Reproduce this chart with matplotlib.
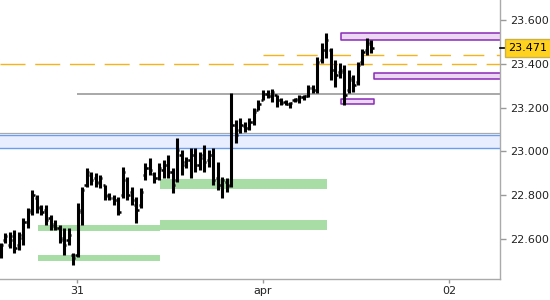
import pandas as pd
import matplotlib
matplotlib.use("Agg")
import matplotlib.pyplot as plt
import matplotlib.transforms as mtransforms

# hourly-ish OHLC bars
times = pd.date_range("2024-03-30 14:10", periods=83, freq="35min")

highs = [22.582, 22.627, 22.632, 22.641, 22.632, 22.696, 22.742, 22.824, 22.801, 22.755,
         22.755, 22.710, 22.687, 22.664, 22.650, 22.650, 22.536, 22.764, 22.837, 22.924,
         22.906, 22.901, 22.892, 22.847, 22.810, 22.801, 22.792, 22.929, 22.883, 22.837,
         22.792, 22.833, 22.947, 22.970, 22.906, 22.947, 22.961, 22.984, 22.924, 23.061,
         23.006, 22.974, 23.016, 23.016, 22.997, 23.029, 23.006, 23.016, 22.952, 22.883,
         22.879, 23.267, 23.143, 23.153, 23.134, 23.153, 23.198, 23.235, 23.280, 23.280,
         23.285, 23.258, 23.244, 23.235, 23.226, 23.244, 23.258, 23.258, 23.303, 23.303,
         23.431, 23.495, 23.541, 23.472, 23.417, 23.404, 23.395, 23.372, 23.349, 23.408,
         23.468, 23.518, 23.509]
lows = [22.513, 22.582, 22.559, 22.536, 22.550, 22.573, 22.650, 22.710, 22.719, 22.710,
        22.664, 22.641, 22.641, 22.582, 22.527, 22.573, 22.481, 22.518, 22.664, 22.837,
        22.847, 22.837, 22.833, 22.778, 22.778, 22.755, 22.710, 22.787, 22.778, 22.755,
        22.673, 22.742, 22.869, 22.892, 22.856, 22.869, 22.879, 22.879, 22.810, 22.860,
        22.892, 22.924, 22.879, 22.906, 22.915, 22.906, 22.929, 22.847, 22.824, 22.787,
        22.815, 22.837, 23.038, 23.084, 23.089, 23.098, 23.121, 23.189, 23.235, 23.244,
        23.226, 23.203, 23.212, 23.212, 23.198, 23.226, 23.221, 23.235, 23.248, 23.267,
        23.267, 23.404, 23.427, 23.326, 23.294, 23.335, 23.212, 23.267, 23.271, 23.303,
        23.395, 23.440, 23.449]
opens = [22.550, 22.596, 22.573, 22.596, 22.573, 22.605, 22.678, 22.732, 22.787, 22.746,
         22.732, 22.696, 22.669, 22.650, 22.605, 22.596, 22.527, 22.527, 22.723, 22.847,
         22.892, 22.879, 22.860, 22.847, 22.801, 22.787, 22.778, 22.801, 22.869, 22.815,
         22.755, 22.755, 22.892, 22.924, 22.897, 22.879, 22.915, 22.938, 22.906, 22.869,
         22.984, 22.952, 22.961, 22.984, 22.938, 22.970, 22.961, 22.984, 22.879, 22.847,
         22.860, 22.847, 23.121, 23.098, 23.116, 23.107, 23.134, 23.189, 23.235, 23.262,
         23.253, 23.258, 23.235, 23.226, 23.216, 23.235, 23.235, 23.248, 23.253, 23.290,
         23.280, 23.417, 23.463, 23.463, 23.372, 23.363, 23.363, 23.280, 23.326, 23.317,
         23.408, 23.463, 23.490]
closes = [22.573, 22.614, 22.614, 22.559, 22.618, 22.678, 22.723, 22.801, 22.742, 22.723,
          22.687, 22.659, 22.650, 22.596, 22.573, 22.618, 22.513, 22.732, 22.824, 22.906,
          22.869, 22.856, 22.879, 22.796, 22.787, 22.778, 22.723, 22.906, 22.801, 22.778,
          22.732, 22.815, 22.924, 22.915, 22.879, 22.924, 22.938, 22.906, 22.847, 23.006,
          22.938, 22.961, 22.984, 22.938, 22.984, 22.952, 22.984, 22.869, 22.847, 22.869,
          22.842, 23.121, 23.075, 23.121, 23.107, 23.134, 23.180, 23.216, 23.262, 23.253,
          23.271, 23.235, 23.221, 23.216, 23.221, 23.239, 23.248, 23.253, 23.290, 23.280,
          23.408, 23.463, 23.509, 23.372, 23.349, 23.372, 23.258, 23.335, 23.303, 23.395,
          23.454, 23.500, 23.471]

last_price = 23.471

# support / resistance zones
green_zones = [  # (start, end, low, high)
    ("2024-03-30 19:00", "2024-03-31 10:40", 22.500, 22.527),
    ("2024-03-30 19:00", "2024-03-31 10:40", 22.637, 22.664),
    ("2024-03-31 10:40", "2024-04-01 08:15", 22.641, 22.687),
    ("2024-03-31 10:40", "2024-04-01 08:15", 22.828, 22.874),
]
purple_zones = [
    ("2024-04-01 10:05", "2024-04-02 12:00", 23.509, 23.541),
    ("2024-04-01 14:20", "2024-04-02 12:00", 23.329, 23.359),
    ("2024-04-01 10:05", "2024-04-01 14:20", 23.215, 23.239),
]
blue_zone = (23.015, 23.075)
grey_full = 23.084
grey_level = ("2024-03-31 00:00", 23.261)
orange_full = 23.399
orange_level = ("2024-04-01 00:00", 23.440)

tick_dates = ["2024-03-31", "2024-04-01", "2024-04-02"]
tick_labels = ["31", "apr", "02"]
y_ticks = [22.6, 22.8, 23.0, 23.2, 23.4, 23.6]

fig = plt.figure(figsize=(5.5, 3), dpi=100)
ax = fig.add_axes([0, 21 / 300, 500 / 550, 279 / 300])

x_start = pd.Timestamp("2024-03-30 14:04")
x_end = pd.Timestamp("2024-04-02 06:35")
ax.set_xlim(x_start, x_end)
ax.set_ylim(22.417, 23.691)

# zones
ax.axhspan(*blue_zone, facecolor="#e8eeff", edgecolor="none", zorder=1)
ax.axhline(blue_zone[0], color="#6a9cf0", lw=1.0, zorder=2)
ax.axhline(blue_zone[1], color="#6a9cf0", lw=1.0, zorder=2)
ax.axhline(grey_full, color="#aaaaaa", lw=0.9, zorder=2)

for s, e, lo, hi in green_zones:
    ax.fill_between([pd.Timestamp(s), pd.Timestamp(e)], lo, hi,
                    color="#a8dea6", lw=0, zorder=2)

for s, e, lo, hi in purple_zones:
    ax.fill_between([pd.Timestamp(s), pd.Timestamp(e)], lo, hi,
                    facecolor="#ecd8f2", edgecolor="#8a2ab8", lw=1.1, zorder=2)

ax.hlines(grey_level[1], pd.Timestamp(grey_level[0]), x_end,
          color="#a8a8a8", lw=1.4, zorder=2)
ax.axhline(orange_full, color="#f5b51a", lw=1.0, ls=(0, (18, 7)), zorder=3)
ax.hlines(orange_level[1], pd.Timestamp(orange_level[0]), x_end,
          color="#f5b51a", lw=1.0, ls=(0, (15, 9)), zorder=3)

# OHLC bars
half = pd.Timedelta(minutes=17)
ax.vlines(times, lows, highs, color="black", lw=2.2, zorder=4)
ax.hlines(opens, times - half, times, color="black", lw=1.8, zorder=4)
ax.hlines(closes, times, times + half, color="black", lw=1.8, zorder=4)

# axes styling
for side in ["top", "left"]:
    ax.spines[side].set_visible(False)
for side in ["right", "bottom"]:
    ax.spines[side].set_color("#aaaaaa")
    ax.spines[side].set_linewidth(1.0)

ax.yaxis.tick_right()
ax.set_yticks(y_ticks)
ax.set_yticklabels([f"{v:.3f}" for v in y_ticks])
ax.tick_params(axis="y", length=4, width=1, color="#999999", pad=3,
               labelsize=8, labelcolor="#222222")
ax.set_xticks([pd.Timestamp(d) for d in tick_dates])
ax.set_xticklabels(tick_labels)
ax.tick_params(axis="x", length=3, width=1, color="#999999", pad=2,
               labelsize=8, labelcolor="#222222")

# last price marker
trans = mtransforms.blended_transform_factory(ax.transAxes, ax.transData)
ax.plot([1.0, 1.01], [last_price, last_price], color="black", lw=1.2,
        transform=trans, clip_on=False, zorder=5)
ax.text(1.017, last_price, f"{last_price:.3f}", transform=trans, ha="left",
        va="center", fontsize=8, color="black", zorder=6,
        bbox=dict(boxstyle="square,pad=0.35", facecolor="#ffd21f",
                  edgecolor="#c9b24a", lw=1.0))

fig.savefig("out.png", dpi=100)
